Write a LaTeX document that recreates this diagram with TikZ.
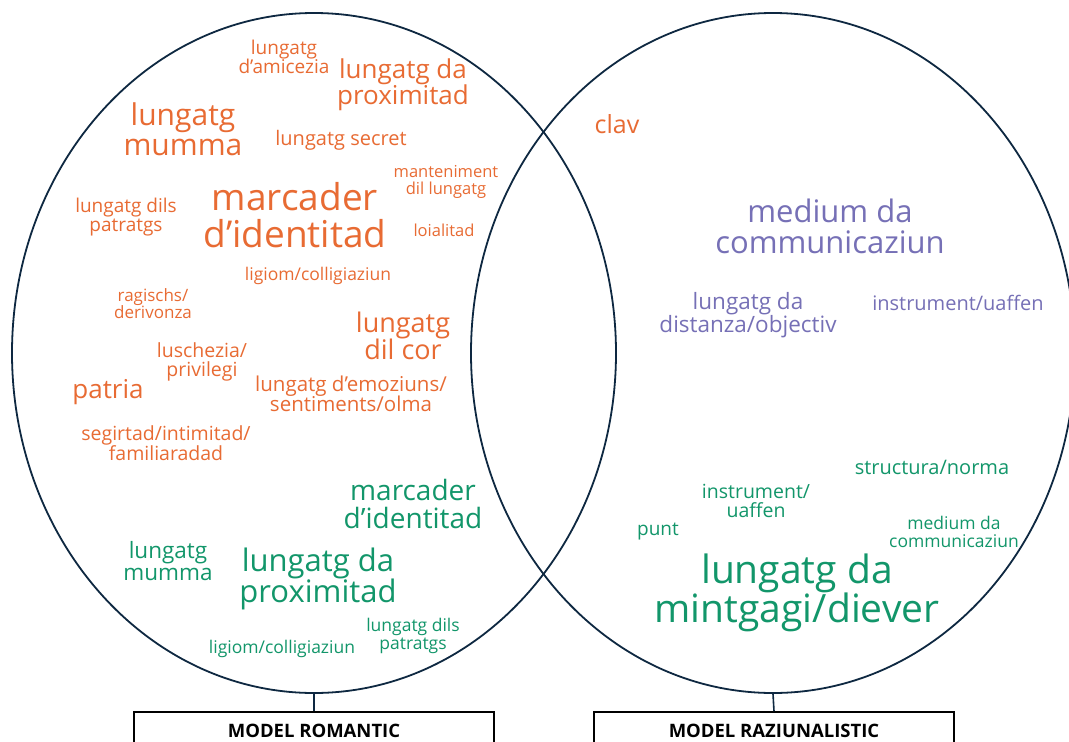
\documentclass[tikz,border=0pt]{standalone}
\usepackage{fontspec}
\setmainfont{Open Sans}
\usetikzlibrary{positioning,shapes.geometric}

\definecolor{romorange}{HTML}{E86B33}
\definecolor{ratgreen}{HTML}{12966A}
\definecolor{ratpurple}{HTML}{7670B6}
\definecolor{linenavy}{HTML}{0E2841}

\tikzset{
  model/.style={ellipse, draw=linenavy, line width=1.8pt, minimum width=604pt, minimum height=680pt, inner sep=0pt},
  modelbox/.style={draw=black, line width=1.6pt, minimum width=360pt, minimum height=38pt, font=\bfseries\fontsize{18.5}{18.5}\selectfont},
  term/.style={align=center, inner sep=0pt, font=\fontsize{#1}{#1}\selectfont},
  rom/.style={term=#1, text=romorange},
  grn/.style={term=#1, text=ratgreen},
  prp/.style={term=#1, text=ratpurple}
}

\begin{document}
\begin{tikzpicture}[x=1pt, y=-1pt]
  \clip (0,0) rectangle (1069,742);
  \fill[white] (0,0) rectangle (1069,742);

  % the two models
  \node[model] (romantic) at (314,353) {};
  \node[model] (raziunal) at (773,353) {};
  \node[modelbox] (romlabel) at (314,731) {MODEL ROMANTIC};
  \node[modelbox] (razlabel) at (774,731) {MODEL RAZIUNALISTIC};
  \draw[linenavy, line width=1.6pt] (romantic.south) -- (romlabel.north);
  \draw[linenavy, line width=1.6pt] (raziunal.south) -- (razlabel.north);

  % romantic terms
  \node[rom=19] (amicezia) at (284,57) {lungatg\\d’amicezia};
  \node[rom=26] (proxrom) at (403,85) {lungatg da\\proximitad};
  \node[rom=30] (mummarom) at (183,129) {lungatg\\mumma};
  \node[rom=20] (secret) at (341,140) {lungatg secret};
  \node[rom=16.5] (manten) at (446,182) {manteniment\\dil lungatg};
  \node[rom=37] (identrom) at (295,215) {marcader\\d’identitad};
  \node[rom=19] (patratgsrom) at (126,217) {lungatg dils\\patratgs};
  \node[rom=16.5] (loial) at (444,230) {loialitad};
  \node[rom=17.5] (ligiomrom) at (318,276) {ligiom/colligiaziun};
  \node[rom=17] (ragischs) at (153,304) {ragischs/\\derivonza};
  \node[rom=27] (cor) at (403,336) {lungatg\\dil cor};
  \node[rom=19.5] (luschezia) at (202,362) {luschezia/\\privilegi};
  \node[rom=26] (patria) at (108,392) {patria};
  \node[rom=20.5] (emoziuns) at (351,394) {lungatg d’emoziuns/\\sentiments/olma};
  \node[rom=19.5] (segirtad) at (166,443) {segirtad/intimitad/\\familiaradad};
  \node[rom=25] (clav) at (617,124) {clav};

  % shared with the rational model
  \node[grn=28] (identgrn) at (413,504) {marcader\\d’identitad};
  \node[grn=22.5] (mummagrn) at (168,561) {lungatg\\mumma};
  \node[grn=31] (proxgrn) at (318,579) {lungatg da\\proximitad};
  \node[grn=17.5] (ligiomgrn) at (282,649) {ligiom/colligiaziun};
  \node[grn=17.5] (patratgsgrn) at (413,636) {lungatg dils\\patratgs};

  % rational terms
  \node[prp=31] (mediumprp) at (830,226) {medium da\\communicaziun};
  \node[prp=22.5] (distanza) at (748,315) {lungatg da\\distanza/objectiv};
  \node[prp=20] (instrprp) at (958,303) {instrument/uaffen};
  \node[grn=20] (structura) at (932,467) {structura/norma};
  \node[grn=19.5] (instrgrn) at (756,501) {instrument/\\uaffen};
  \node[grn=19] (punt) at (658,532) {punt};
  \node[grn=17.5] (mediumgrn) at (954,532) {medium da\\communicaziun};
  \node[grn=39] (diever) at (797,593) {lungatg da\\mintgagi/diever};
\end{tikzpicture}
\end{document}
